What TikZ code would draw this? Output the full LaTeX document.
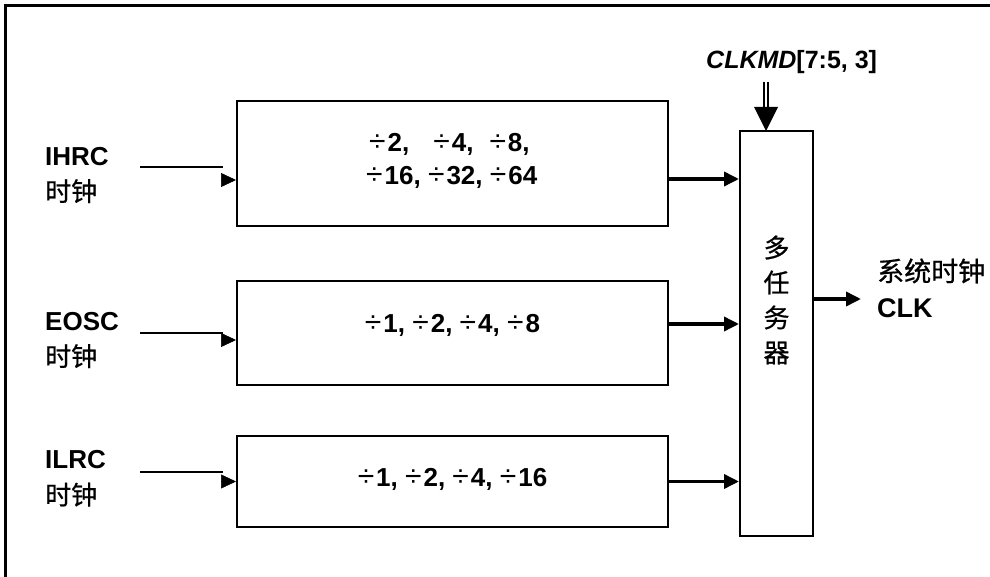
\documentclass[tikz,border=0pt]{standalone}
\usepackage{fontspec}
\setmainfont{Liberation Sans}
\newfontfamily\cjk[FakeBold=0.7]{Noto Sans CJK SC}
\usetikzlibrary{arrows.meta}
\newcommand\dv{{\fontsize{30}{35}\selectfont\mdseries ÷}\hspace{2pt}}
\begin{document}
\begin{tikzpicture}[x=1pt,y=-1pt,
  txt/.style={font=\fontsize{26}{33}\selectfont\bfseries, inner sep=0pt},
  lbl/.style={font=\fontsize{26}{36}\selectfont, inner sep=0pt, align=left, anchor=west},
  divbox/.style={draw, line width=2pt, minimum width=431pt, inner sep=0pt},
  muxbox/.style={draw, line width=2pt, minimum width=73pt, minimum height=405pt, inner sep=0pt},
  inline/.style={line width=2.5pt},
  intip/.style={line width=0.5pt, -{Triangle[length=15pt,width=14pt]}},
  outarr/.style={line width=3.5pt, -{Triangle[length=15pt,width=14pt]}},
  frameline/.style={line width=3pt}
]
\useasboundingbox (0,0) rectangle (990,577);
% frame
\coordinate (fl) at (5,577);
\coordinate (fc) at (5,6);
\coordinate (fr) at (990,6);
\draw[frameline] (fl) -- (fc) -- (fr);

% divider boxes
\node[divbox, minimum height=125pt] (b1) at (452.5,164) {};
\node[divbox, minimum height=104pt] (b2) at (452.5,333) {};
\node[divbox, minimum height=91pt] (b3) at (452.5,481.5) {};
\node[txt, align=left, anchor=west] (t1) at (366,161) {\hspace*{3pt}\dv 2,\hspace{24pt}\dv 4,\hspace{16pt}\dv 8,\\\dv 16, \dv 32, \dv 64};
\node[txt] (t2) at (452.5,325) {\dv 1, \dv 2, \dv 4, \dv 8};
\node[txt] (t3) at (452.5,479) {\dv 1, \dv 2, \dv 4, \dv 16};

% mux
\node[muxbox] (mux) at (776.5,333.5) {};
\node[font=\fontsize{26}{35}\selectfont\cjk, align=center, inner sep=0pt] (mt) at (776.5,300) {多\\任\\务\\器};

% inputs
\node[lbl] (l1) at (45,175) {\textbf{IHRC}\\{\cjk 时钟}};
\node[lbl] (l2) at (45,340) {\textbf{EOSC}\\{\cjk 时钟}};
\node[lbl] (l3) at (45,478.5) {\textbf{ILRC}\\{\cjk 时钟}};

\coordinate (i1s) at (140,167);
\coordinate (i1e) at (223,167);
\coordinate (i2s) at (140,333);
\coordinate (i2e) at (223,333);
\coordinate (i3s) at (140,472);
\coordinate (i3e) at (223,472);
\draw[inline] (i1s) -- (i1e);
\draw[inline] (i2s) -- (i2e);
\draw[inline] (i3s) -- (i3e);
\draw[intip] ([xshift=-15pt,yshift=-16pt]b1.west) -- ([yshift=-16pt]b1.west);
\draw[intip] ([xshift=-15pt,yshift=-7pt]b2.west) -- ([yshift=-7pt]b2.west);
\draw[intip] ([xshift=-15pt]b3.west) -- (b3.west);

% box outputs to mux
\draw[outarr] ([yshift=-15pt]b1.east) -- ([yshift=-15pt]b1.east -| mux.west);
\draw[outarr] ([yshift=9pt]b2.east) -- ([yshift=9pt]b2.east -| mux.west);
\draw[outarr] (b3.east) -- (b3.east -| mux.west);

% mux output
\coordinate (out) at (861,299);
\draw[outarr] (mux.east |- out) -- (out);
\node[lbl, font=\fontsize{27}{36}\selectfont] (ol) at (877,288) {{\cjk 系统时钟}\\\textbf{CLK}};

% control
\node[font=\fontsize{25}{30}\selectfont\bfseries, inner sep=0pt, anchor=west] (ctl) at (706,62) {\textit{CLKMD}[7:5, 3]};
\coordinate (cs) at (766,82);
\coordinate (cm) at (766,108);
\coordinate (cl) at (754,107);
\coordinate (cr) at (778,107);
\coordinate (ct) at (766,131);
\draw[line width=2.2pt] ([xshift=-2pt]cs) -- ([xshift=-2pt]cm);
\draw[line width=2.2pt] ([xshift=2pt]cs) -- ([xshift=2pt]cm);
\fill (cl) -- (cr) -- (ct) -- cycle;
\end{tikzpicture}
\end{document}
